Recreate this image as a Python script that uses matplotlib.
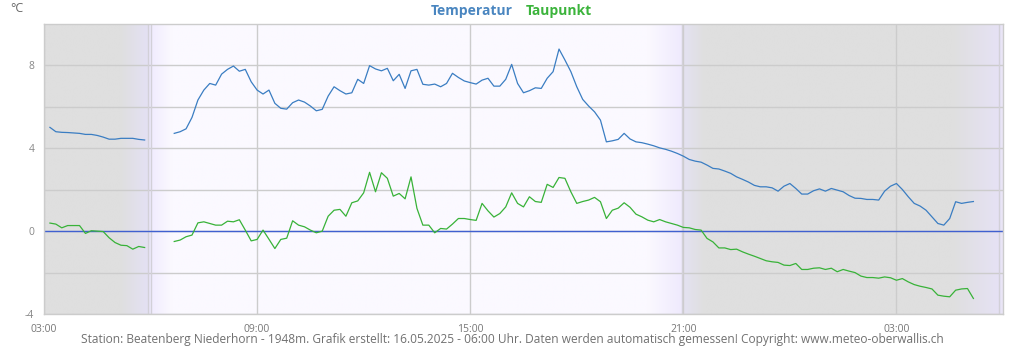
import matplotlib
matplotlib.use('Agg')
import matplotlib.pyplot as plt
import matplotlib.dates as mdates
from matplotlib.colors import to_rgb
import numpy as np
import pandas as pd

plt.rcParams['font.family'] = ['Open Sans', 'DejaVu Sans']

# 10-minute values, 15.05.2025 03:10 ... 16.05.2025 05:10 (None = no data)
temp_night = [5.01, 4.80, 4.77, 4.76, 4.74, 4.72, 4.67, 4.67, 4.62, 4.54,
              4.44, 4.44, 4.48, 4.48, 4.48, 4.43, 4.40]
dew_night = [0.39, 0.34, 0.16, 0.27, 0.27, 0.27, -0.11, 0.02, 0.00, -0.02,
             -0.32, -0.55, -0.68, -0.70, -0.87, -0.74, -0.79]
gap = [None, None, None, None]
temp_day = [4.72, 4.80, 4.94, 5.49, 6.33, 6.81, 7.13, 7.05, 7.58, 7.81, 7.97, 7.72,
            7.81, 7.21, 6.81, 6.62, 6.81, 6.17, 5.93, 5.89, 6.20, 6.33,
            6.23, 6.04, 5.81, 5.88, 6.52, 6.97, 6.78, 6.62, 6.68, 7.33,
            7.13, 7.99, 7.83, 7.74, 7.86, 7.26, 7.57, 6.89, 7.74, 7.81,
            7.09, 7.05, 7.10,
            6.97, 7.13, 7.62, 7.42, 7.25, 7.17, 7.10, 7.29, 7.38, 7.00,
            7.00, 7.33, 8.05, 7.13, 6.68, 6.78, 6.92, 6.89, 7.38, 7.70,
            8.79, 8.26, 7.70, 6.97, 6.36, 6.04, 5.76, 5.36, 4.31, 4.36,
            4.43, 4.72, 4.45,
            4.31, 4.27, 4.20, 4.12, 4.02, 3.95, 3.86, 3.75, 3.62, 3.46,
            3.38, 3.33, 3.19, 3.03, 3.00, 2.90, 2.79, 2.62, 2.50, 2.37,
            2.21, 2.14, 2.14, 2.09, 1.93, 2.17, 2.30, 2.06, 1.79, 1.79,
            1.95, 2.04, 1.93,
            2.06, 1.98, 1.90, 1.72, 1.59, 1.58, 1.53, 1.53, 1.50, 1.93,
            2.17, 2.30, 2.01, 1.66, 1.34, 1.21, 1.01, 0.69, 0.37, 0.29,
            0.61, 1.42, 1.34, 1.39, 1.43]
dew_day = [-0.50, -0.43, -0.27, -0.19, 0.40, 0.45, 0.37, 0.29, 0.29, 0.48, 0.45, 0.55,
           0.05, -0.47, -0.40, 0.05, -0.39, -0.84, -0.40, -0.34, 0.50, 0.29,
           0.21, 0.05, -0.08, 0.00, 0.72, 1.01, 1.05, 0.72, 1.37, 1.46,
           1.85, 2.84, 1.90, 2.82, 2.55, 1.69, 1.82, 1.56, 2.62, 1.10,
           0.29, 0.29, -0.08,
           0.13, 0.10, 0.34, 0.61, 0.61, 0.56, 0.52, 1.34, 0.98, 0.68,
           0.85, 1.17, 1.85, 1.34, 1.17, 1.66, 1.43, 1.39, 2.26, 2.11,
           2.59, 2.55, 1.90, 1.34, 1.43, 1.50, 1.63, 1.42, 0.61, 1.01,
           1.11, 1.37, 1.15,
           0.82, 0.69, 0.53, 0.45, 0.56, 0.45, 0.37, 0.29, 0.18, 0.16,
           0.08, 0.05, -0.35, -0.52, -0.81, -0.81, -0.89, -0.87, -1.00, -1.11,
           -1.21, -1.32, -1.43, -1.48, -1.51, -1.64, -1.66, -1.56, -1.85, -1.85,
           -1.79, -1.77, -1.85,
           -1.79, -1.96, -1.85, -1.93, -2.00, -2.17, -2.24, -2.24, -2.27, -2.21,
           -2.25, -2.37, -2.29, -2.45, -2.58, -2.66, -2.72, -2.79, -3.09, -3.14,
           -3.17, -2.85, -2.79, -2.77, -3.25]

temperatur = np.array(temp_night + gap + temp_day, dtype=float)
taupunkt = np.array(dew_night + gap + dew_day, dtype=float)
times = pd.date_range('2025-05-15 03:10', periods=len(temperatur), freq='10min')

start = pd.Timestamp('2025-05-15 03:00')
end = pd.Timestamp('2025-05-16 06:00')

# day / night shading (hours after start, colour)
bg_stops = [(0.0, '#dfdfdf'), (2.15, '#dfdfdf'), (2.92, '#e4e1f4'),
            (3.02, '#f1ecfe'), (3.6, '#fbf9ff'), (17.0, '#fbf9ff'),
            (17.95, '#efeafd'), (18.03, '#e4e2f1'), (18.6, '#dfdfdf'),
            (25.6, '#dfdfdf'), (26.9, '#e6e2f5'), (27.0, '#ebe7f8')]
sun_lines = ['2025-05-15 05:55', '2025-05-15 06:00', '2025-05-15 20:57',
             '2025-05-16 05:54']

fig = plt.figure(figsize=(10.24, 3.5), dpi=100)
ax = fig.add_axes([44 / 1024, 1 - 314 / 350, 959 / 1024, 290 / 350])

hrs = np.linspace(0, 27, 2000)
sh = [s[0] for s in bg_stops]
cols = np.array([to_rgb(s[1]) for s in bg_stops])
img = np.stack([np.interp(hrs, sh, cols[:, k]) for k in range(3)], axis=-1)[None, :, :]
x0, x1 = mdates.date2num(start), mdates.date2num(end)
ax.imshow(img, extent=[x0, x1, -4, 10], aspect='auto', zorder=0, interpolation='bilinear')

for s in sun_lines:
    ax.axvline(pd.Timestamp(s), color='#d2d0d8', lw=1, zorder=1)

ax.grid(True, color='#cccccc', lw=1, zorder=1)
ax.set_axisbelow(True)
ax.axhline(0, color='#4060d0', lw=1, zorder=2)

ax.plot(times, temperatur, color='#3a7dc2', lw=0.9, zorder=3)
ax.plot(times, taupunkt, color='#38b238', lw=0.9, zorder=3)

ax.set_xlim(x0, x1)
ax.set_ylim(-4, 10)
ax.set_yticks([-4, -2, 0, 2, 4, 6, 8])
ax.set_yticklabels(['-4', '', '0', '', '4', '', '8'])
ax.xaxis.set_major_locator(mdates.HourLocator(byhour=[3, 9, 15, 21]))
ax.xaxis.set_major_formatter(mdates.DateFormatter('%H:%M'))
ax.tick_params(axis='x', length=0, pad=7, labelsize=7.5, labelcolor='#777777')
ax.tick_params(axis='y', length=0, pad=7, labelsize=7.5, labelcolor='#888888')
for sp in ax.spines.values():
    sp.set_color('#cccccc')
    sp.set_linewidth(1)

fig.text(10 / 1024, 1 - 9 / 350, '°C', fontsize=9, color='#666666', va='center')
fig.text(472 / 1024, 1 - 11 / 350, 'Temperatur', fontsize=10, fontweight='bold',
         color='#4a86c0', ha='center', va='center')
fig.text(559 / 1024, 1 - 11 / 350, 'Taupunkt', fontsize=10, fontweight='bold',
         color='#3cb43c', ha='center', va='center')
fig.text(0.5, 1 - 340 / 350,
         'Station: Beatenberg Niederhorn - 1948m. Grafik erstellt: 16.05.2025 - 06:00 Uhr. '
         'Daten werden automatisch gemessen! Copyright: www.meteo-oberwallis.ch',
         fontsize=8.6, color='#707070', ha='center', va='center')

fig.savefig('out.png', dpi=100)
